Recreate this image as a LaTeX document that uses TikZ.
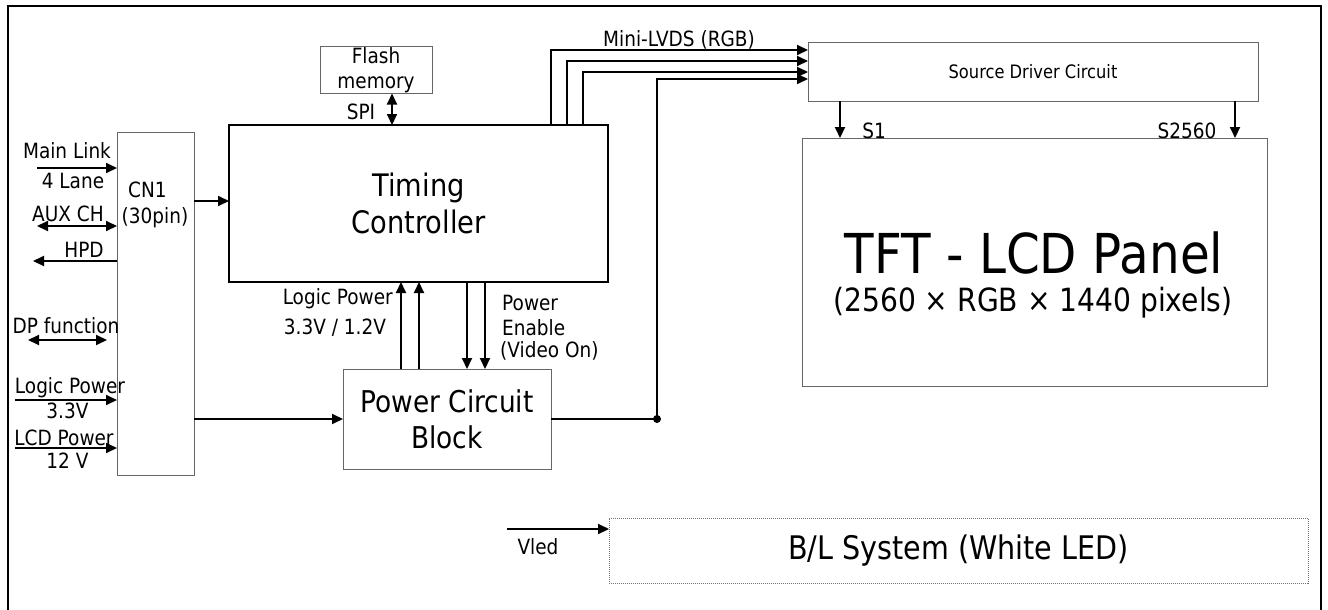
\documentclass[tikz,border=0pt]{standalone}
\usepackage{fontspec}
\setmainfont[FakeStretch=0.88]{DejaVu Sans}
\usetikzlibrary{arrows.meta}
\begin{document}
\begin{tikzpicture}[x=1pt,y=-1pt,
  >={Triangle[length=11pt,width=10pt]},
  arr/.style={line width=2pt,->},
  darr/.style={line width=2pt,<->},
  wire/.style={line width=2pt},
  thinbox/.style={draw=black!60,line width=1pt,inner sep=0pt,outer sep=0pt},
  thickbox/.style={draw=black,line width=2pt,inner sep=0pt,outer sep=0pt},
  dotbox/.style={draw=black!55,line width=0.8pt,dash pattern=on 1pt off 1pt,inner sep=0pt,outer sep=0pt},
  lbl/.style={font=\fontsize{21}{25}\selectfont,inner sep=0pt,anchor=base},
  lblw/.style={lbl,anchor=base west},
  lble/.style={lbl,anchor=base east}]
\useasboundingbox (0,0) rectangle (1328,610);
% outer frame
\draw[line width=2pt] (7.5,612) -- (7.5,6) -- (1321,6) -- (1321,612);

% boxes
\node[thinbox,minimum width=77pt,minimum height=343pt] (cn1) at (155.5,303.5) {};
\node[thickbox,minimum width=379pt,minimum height=157pt,align=center,
  font=\fontsize{31}{37}\selectfont] (tc) at (418.5,203.5) {Timing\\Controller};
\node[thinbox,minimum width=112pt,minimum height=47pt,align=center,
  font=\fontsize{21}{25}\selectfont] (flash) at (376,70) {Flash\\memory};
\node[thinbox,minimum width=208pt,minimum height=100pt,align=center,
  font=\fontsize{30}{36}\selectfont] (pcb) at (447,419) {Power Circuit\\Block};
\node[thinbox,minimum width=450pt,minimum height=58pt,
  font=\fontsize{18.5}{22}\selectfont] (sdc) at (1033,72) {Source Driver Circuit};
\node[thinbox,minimum width=465pt,minimum height=248pt] (tft) at (1034.5,262) {};
\node[dotbox,minimum width=699pt,minimum height=65pt,
  font=\fontsize{32.5}{38}\selectfont] (bl) at (958.5,550.5) {B/L System (White LED)};

% texts
\node[lbl,font=\fontsize{55}{60}\selectfont] (tfttitle) at (1034,273) {TFT - LCD Panel};
\node[lbl,font=\fontsize{32}{38}\selectfont] (tftsub) at (1033,311) {(2560 × RGB × 1440 pixels)};
\node[lblw] (tcn1) at (128,197) {CN1};
\node[lbl] (tpin) at (155,223) {(30pin)};
\node[lbl] (tml) at (67,158) {Main Link};
\node[lbl] (tlane) at (73,188) {4 Lane};
\node[lbl] (taux) at (68,221) {AUX CH};
\node[lbl] (thpd) at (84,257) {HPD};
\node[lbl] (tdp) at (66,333) {DP function};
\node[lbl] (tlp) at (70,393) {Logic Power};
\node[lbl] (t33) at (67.5,418) {3.3V};
\node[lbl] (tlcd) at (64,445) {LCD Power};
\node[lbl] (t12) at (67.5,468) {12 V};
\node[lbl] (tspi) at (361,119) {SPI};
\node[lbl] (tmini) at (679,47) {Mini-LVDS (RGB)};
\node[lble] (tlogic) at (393,304) {Logic Power};
\node[lbl] (tvolt) at (335,334) {3.3V / 1.2V};
\node[lblw] (tpow) at (502,310) {Power};
\node[lblw] (tena) at (502,335) {Enable};
\node[lblw] (tvid) at (500,357) {(Video On)};
\node[lbl] (ts1) at (874,138) {S1};
\node[lbl] (ts2560) at (1187,138) {S2560};
\node[lbl] (tvled) at (538,554) {Vled};

% left inputs
\coordinate (mlS) at (37,168);
\draw[arr] (mlS) -- (mlS -| cn1.west);
\coordinate (auxS) at (37,226);
\draw[darr] (auxS) -- (auxS -| cn1.west);
\coordinate (hpdE) at (33,261);
\draw[arr] (hpdE -| cn1.west) -- (hpdE);
\coordinate (dpA) at (28,340);
\coordinate (dpB) at (107,340);
\draw[darr] (dpA) -- (dpB);
\coordinate (lpS) at (15,400);
\draw[arr] (lpS) -- (lpS -| cn1.west);
\coordinate (lcdS) at (15,448);
\draw[arr] (lcdS) -- (lcdS -| cn1.west);

% CN1 outputs
\draw[arr] (cn1.east |- 0,201) -- (tc.west |- 0,201);
\draw[arr] (cn1.east |- pcb.west) -- (pcb.west);

% SPI
\coordinate (spiT) at ([xshift=16pt]flash.south);
\draw[darr] (spiT) -- (spiT |- tc.north);

% power circuit <-> timing controller
\draw[arr] (pcb.north -| 401,0) -- (tc.south -| 401,0);
\draw[arr] (pcb.north -| 419,0) -- (tc.south -| 419,0);
\draw[arr] (tc.south -| 467,0) -- (pcb.north -| 467,0);
\draw[arr] (tc.south -| 485,0) -- (pcb.north -| 485,0);

% mini-LVDS
\draw[arr] ([xshift=322pt]tc.north west) |- ([yshift=22pt]sdc.west);
\draw[arr] ([xshift=338pt]tc.north west) |- ([yshift=11pt]sdc.west);
\draw[arr] ([xshift=354pt]tc.north west) |- (sdc.west);
\coordinate (junc) at (657,419);
\draw[wire] (pcb.east) -- (junc);
\draw[arr] (junc) |- ([yshift=-7pt]sdc.west);
\fill (junc) circle (4);

% source driver -> panel
\draw[arr] (sdc.south -| 840,0) -- (tft.north -| 840,0);
\draw[arr] (sdc.south -| 1235,0) -- (tft.north -| 1235,0);

% Vled
\coordinate (vled) at (507,529);
\draw[arr] (vled) -- (vled -| bl.west);
\end{tikzpicture}
\end{document}
